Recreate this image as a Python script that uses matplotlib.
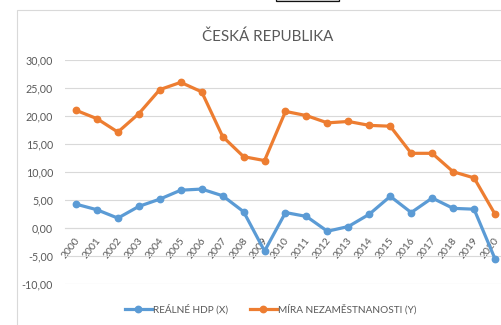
import matplotlib
matplotlib.use("Agg")
import matplotlib.pyplot as plt
from matplotlib.patches import Rectangle
from matplotlib.lines import Line2D
import matplotlib.transforms as mtransforms

plt.rcParams['font.family'] = ['Lato', 'DejaVu Sans']

years = [str(y) for y in range(2000, 2021)]
hdp = [4.2, 3.2, 1.7, 3.8, 5.1, 6.7, 6.9, 5.7, 2.85, -4.2, 2.7, 2.0, -0.65, 0.2,
       2.4, 5.6, 2.7, 5.3, 3.45, 3.3, -5.6]
nezam = [21.0, 19.5, 17.1, 20.4, 24.7, 26.0, 24.3, 16.3, 12.7, 12.0, 20.8, 20.05,
         18.75, 19.0, 18.3, 18.15, 13.3, 13.3, 10.0, 8.9, 2.4]
yticks = [-10, -5, 0, 5, 10, 15, 20, 25, 30]
title = "ČESKÁ REPUBLIKA"
label_hdp = "REÁLNÉ HDP (X)"
label_nezam = "MÍRA NEZAMĚSTNANOSTI (Y)"

blue = '#5B9BD5'
orange = '#ED7D31'
grid = '#D9D9D9'
text_col = '#595959'

W, H = 502, 325
fig = plt.figure(figsize=(W / 100, H / 100), dpi=100)
renderer = fig.canvas.get_renderer()


def fx(px):
    return px / W


def fy(py):
    return (H - py) / H


def fit_width(texts, target_px):
    """Scale the font of the given texts so their total width is target_px."""
    cur = sum(t.get_window_extent(renderer).width for t in texts)
    for t in texts:
        t.set_fontsize(t.get_fontsize() * target_px / cur)


# chart frame
fig.patches.append(Rectangle((fx(17), -0.1), 1.2, fy(10) + 0.1,
                             transform=fig.transFigure, fill=False,
                             edgecolor=grid, lw=0.8))
# thin dark bar at the top edge
fig.patches.append(Rectangle((fx(276), fy(1.2)), fx(339) - fx(276), 2 / H,
                             transform=fig.transFigure, facecolor='white',
                             edgecolor='#111111', lw=0.9))

left, right = 65.5, 505.5
top, bottom = 60.0, 283.5
ax = fig.add_axes([fx(left), fy(bottom), (right - left) / W, (bottom - top) / H])

x = list(range(len(years)))
style = dict(lw=2.3, marker='o', ms=4.6, solid_capstyle='round',
             solid_joinstyle='round', zorder=3)
ax.plot(x, hdp, color=blue, **style)
ax.plot(x, nezam, color=orange, **style)

ax.set_xlim(-0.5, len(years) - 0.5)
ax.set_ylim(-10, 30)
ax.set_yticks(yticks)
ax.set_yticklabels([f"{v:.2f}".replace('.', ',') for v in yticks])
ax.yaxis.grid(True, color=grid, lw=0.8)
ax.set_axisbelow(True)

for s in ['top', 'right', 'left']:
    ax.spines[s].set_visible(False)
ax.spines['bottom'].set_position(('data', 0))
ax.spines['bottom'].set_color(grid)
ax.spines['bottom'].set_linewidth(0.8)

ax.set_xticks(x)
ax.set_xticklabels(years, rotation=52, ha='right', va='top', rotation_mode='anchor')
ax.tick_params(axis='x', length=0, pad=6, labelsize=7.5, labelcolor=text_col)
ax.tick_params(axis='y', length=0, pad=9, labelsize=7.7, labelcolor=text_col)
shift = mtransforms.ScaledTranslation(-1.5 / 100, 0, fig.dpi_scale_trans)
for lab in ax.get_xticklabels():
    lab.set_transform(lab.get_transform() + shift)

t_title = fig.text(fx(268), fy(36.5), title, ha='center', va='center',
                   fontsize=10.5, color=text_col)
fit_width([t_title], 132)

# legend entries
legend_items = [(label_hdp, blue, 125, 152), (label_nezam, orange, 250, 277)]
legend_texts = []
for label, col, x0, x1 in legend_items:
    fig.add_artist(Line2D([fx(x0), fx(x1)], [fy(309), fy(309)], color=col, lw=2.3,
                          transform=fig.transFigure))
    fig.add_artist(Line2D([fx((x0 + x1) / 2)], [fy(309)], color=col, marker='o',
                          ms=4.6, transform=fig.transFigure))
    legend_texts.append(fig.text(fx(x1 + 1), fy(309), label, ha='left',
                                 va='center', fontsize=8.0, color=text_col))
fit_width(legend_texts, 76 + 138)

fig.savefig('out.png', dpi=100, facecolor='white')
